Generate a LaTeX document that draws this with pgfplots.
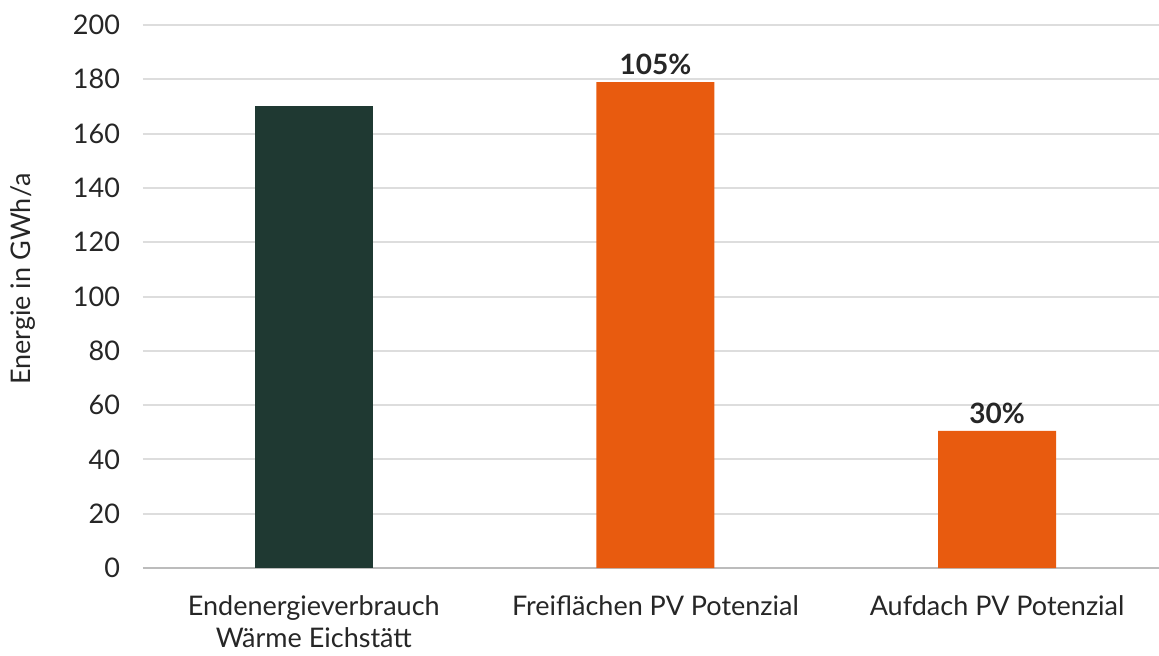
\documentclass[border=0pt]{standalone}
\usepackage{pgfplots}
\pgfplotsset{compat=1.18}
\usepackage{fontspec}
\setmainfont{Lato}
\definecolor{darkgreen}{HTML}{1F3932}
\definecolor{solarorange}{HTML}{E85B0F}
\definecolor{gridgray}{HTML}{DDDDDD}
\definecolor{textgray}{HTML}{262626}
\begin{document}
\begin{tikzpicture}
\useasboundingbox (-71.5pt,-43.5pt) rectangle (508pt,284pt);
\begin{axis}[
  scale only axis,
  width=508pt, height=271.5pt,
  ymin=0, ymax=200, ytick={0,20,...,200},
  xmin=-0.5, xmax=2.474,
  xtick={0,1,2},
  xticklabels={{Endenergieverbrauch\\Wärme Eichstätt},{Freiflächen PV Potenzial},{Aufdach PV Potenzial}},
  x tick label style={align=center, font=\fontsize{13.5}{16}\selectfont, text=textgray, yshift=-10.5pt},
  y tick label style={font=\fontsize{13.5}{14}\selectfont, text=textgray, xshift=-8pt},
  /pgf/number format/assume math mode=true,
  ylabel={Energie in GWh/a},
  ylabel style={font=\fontsize{13.5}{14}\selectfont, text=textgray,
    at={(axis description cs:-0.118,0.532)}, anchor=center, rotate=0},
  axis x line*=bottom, axis y line*=left,
  y axis line style={draw=none},
  x axis line style={draw=gridgray!85!black, line width=1pt},
  major tick length=0pt,
  ymajorgrids, grid style={draw=gridgray, line width=1pt},
  ybar, bar width=59pt,
  clip=false,
]
\addplot[ybar, bar shift=0pt, fill=darkgreen, draw=none] coordinates {(0,170)};
\addplot[ybar, bar shift=0pt, fill=solarorange, draw=none,
  point meta=explicit symbolic,
  nodes near coords,
  every node near coord/.append style={font=\bfseries\fontsize{14}{15}\selectfont, text=textgray, yshift=0pt}]
  coordinates {(1,179) [105\%] (2,50.5) [30\%]};
\end{axis}
\end{tikzpicture}
\end{document}
